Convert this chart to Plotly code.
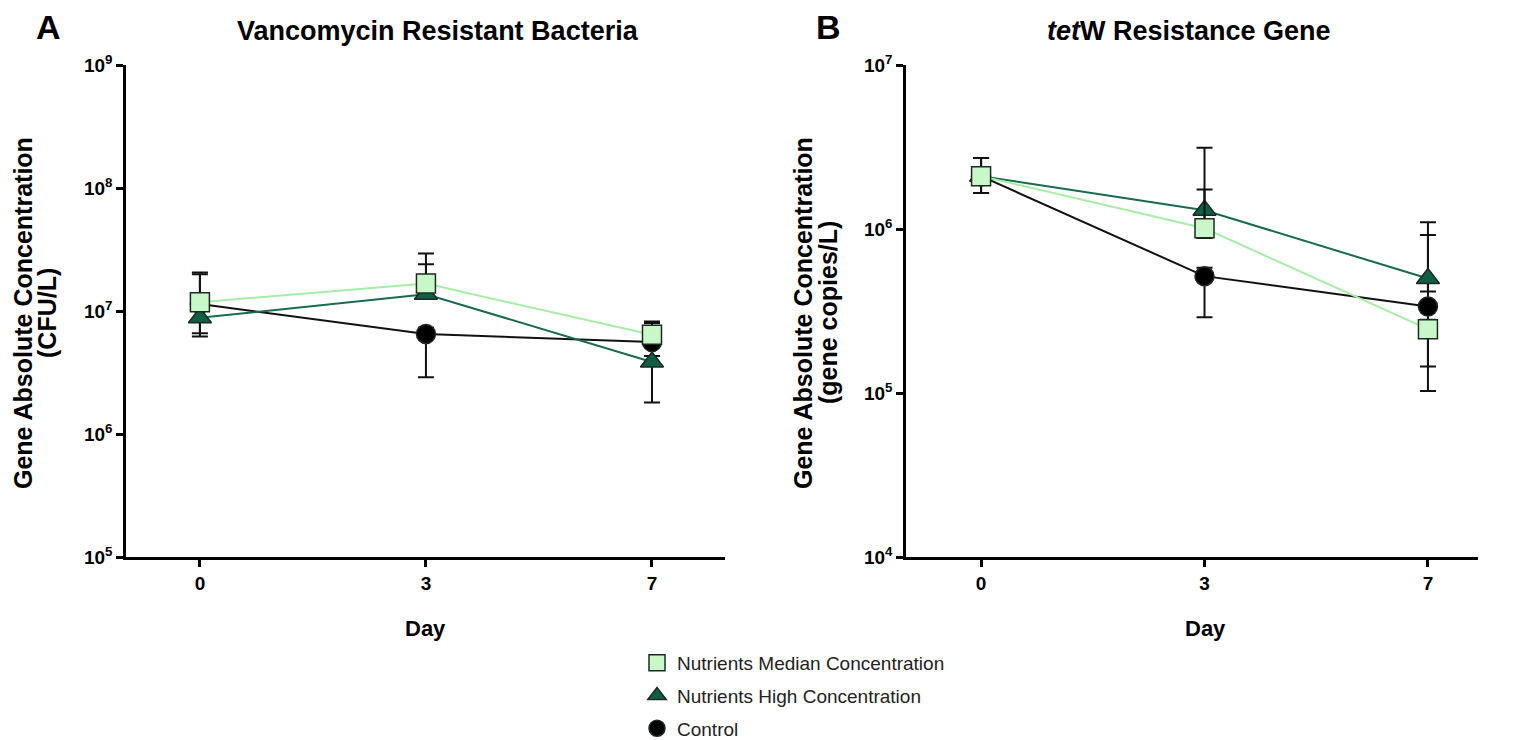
import plotly.graph_objects as go

days = ["0", "3", "7"]
series_names = ["Nutrients Median Concentration", "Nutrients High Concentration", "Control"]

# Panel A: Vancomycin Resistant Bacteria (CFU/L)
a_median = [1.18e7, 1.67e7, 6.4e6]
a_median_hi = [2.06e7, 2.4e7, 8.2e6]
a_median_lo = [1.05e7, 1.5e7, 5.8e6]
a_high = [8.8e6, 1.37e7, 3.85e6]
a_high_hi = [1.0e7, 2.94e7, 4.3e6]
a_high_lo = [6.6e6, 1.25e7, 1.8e6]
a_ctrl = [1.14e7, 6.5e6, 5.6e6]
a_ctrl_hi = [1.99e7, 7.3e6, 8.0e6]
a_ctrl_lo = [6.2e6, 2.9e6, 5.1e6]

# Panel B: tetW Resistance Gene (gene copies/L)
b_median = [2.1e6, 1.01e6, 2.45e5]
b_median_hi = [2.71e6, 1.74e6, 2.8e5]
b_median_lo = [1.66e6, 8.8e5, 1.45e5]
b_high = [2.1e6, 1.30e6, 4.99e5]
b_high_hi = [2.71e6, 3.13e6, 1.1e6]
b_high_lo = [1.66e6, 1.15e6, 4.16e5]
b_ctrl = [2.1e6, 5.16e5, 3.37e5]
b_ctrl_hi = [2.71e6, 5.8e5, 9.2e5]
b_ctrl_lo = [1.66e6, 2.9e5, 1.03e5]

W, H = 1517, 740
OFF = 8  # page body margin
FONT = "Liberation Sans, Arial, sans-serif"


def px(x):
    return (x - OFF) / W


def py(y):
    return 1 - (y - OFF) / H


styles = {
    "median": dict(line="#a6eea6", fill="#c8f7c8", symbol="square", size=19),
    "high": dict(line="#176b50", fill="#0f5e46", symbol="triangle-up", size=20),
    "ctrl": dict(line="#111111", fill="#000000", symbol="circle", size=19),
}

fig = go.Figure()


def add(xa, ya, y, hi, lo, key):
    s = styles[key]
    fig.add_trace(go.Scatter(
        x=days, y=y, mode="lines+markers", xaxis=xa, yaxis=ya, showlegend=False,
        line=dict(color=s["line"], width=2),
        marker=dict(symbol=s["symbol"], size=s["size"], color=s["fill"],
                    line=dict(color="#1c2a22", width=1.5)),
        error_y=dict(type="data", symmetric=False,
                     array=[h - v for h, v in zip(hi, y)],
                     arrayminus=[v - l for l, v in zip(lo, y)],
                     color="#111111", thickness=2, width=8),
    ))


for xa, ya, data in [
    ("x", "y", [(a_ctrl, a_ctrl_hi, a_ctrl_lo, "ctrl"), (a_high, a_high_hi, a_high_lo, "high"),
                (a_median, a_median_hi, a_median_lo, "median")]),
    ("x2", "y2", [(b_ctrl, b_ctrl_hi, b_ctrl_lo, "ctrl"), (b_high, b_high_hi, b_high_lo, "high"),
                  (b_median, b_median_hi, b_median_lo, "median")]),
]:
    for y, hi, lo, key in data:
        add(xa, ya, y, hi, lo, key)

# legend entries (markers only)
for i, (name, key) in enumerate(zip(series_names, ["median", "high", "ctrl"])):
    s = styles[key]
    fig.add_trace(go.Scatter(
        x=[None], y=[None], mode="markers", name=name, xaxis="x", yaxis="y",
        legendgroup="g%d" % i,
        marker=dict(symbol=s["symbol"], size=17, color=s["fill"],
                    line=dict(color="#1c2a22", width=1.5)),
    ))

ydom = [py(557), py(65)]
axis_common = dict(showline=True, linecolor="black", linewidth=2.5, ticks="outside",
                   ticklen=7, tickwidth=2.5, tickcolor="black", showgrid=False, zeroline=False,
                   automargin=False,
                   tickfont=dict(family=FONT, size=19, color="black"))

sup = lambda e: "<b>10<sup>%d</sup></b>" % e

fig.update_layout(
    width=W, height=H, margin=dict(l=0, r=0, t=0, b=0, pad=0),
    paper_bgcolor="white", plot_bgcolor="white",
    font=dict(family=FONT, color="black"),
    xaxis=dict(domain=[px(126), px(725)], anchor="y", type="category",
               range=[-0.327, 2.323], **axis_common),
    yaxis=dict(domain=ydom, anchor="x", type="log", range=[5, 9],
               tickvals=[1e5, 1e6, 1e7, 1e8, 1e9],
               ticktext=[sup(e) for e in range(5, 10)],
               **axis_common),
    xaxis2=dict(domain=[px(906), px(1478)], anchor="y2", type="category",
                range=[-0.336, 2.224], **axis_common),
    yaxis2=dict(domain=ydom, anchor="x2", type="log", range=[4, 7],
                tickvals=[1e4, 1e5, 1e6, 1e7],
                ticktext=[sup(e) for e in range(4, 8)],
                **axis_common),
    legend=dict(x=px(637), y=0.0, xanchor="left", yanchor="bottom",
                font=dict(family=FONT, size=19, color="#222222"),
                tracegroupgap=5, itemsizing="trace", bgcolor="rgba(0,0,0,0)"),
)

fig.update_xaxes(ticktext=["<b>0</b>", "<b>3</b>", "<b>7</b>"], tickvals=days)

ann = [
    dict(x=48, y=27, text="<b>A</b>", size=34),
    dict(x=829, y=27, text="<b>B</b>", size=34),
    dict(x=438, y=31, text="<b>Vancomycin Resistant Bacteria</b>", size=27),
    dict(x=1189, y=31, text="<b><i>tet</i>W Resistance Gene</b>", size=27),
    dict(x=425, y=628, text="<b>Day</b>", size=22),
    dict(x=1205, y=628, text="<b>Day</b>", size=22),
]
for a in ann:
    fig.add_annotation(x=px(a["x"]), y=py(a["y"]), xref="paper", yref="paper", text=a["text"],
                       showarrow=False, xanchor="center", yanchor="middle",
                       font=dict(family=FONT, size=a["size"], color="black"))

for xpos, txt in [(23, "<b>Gene Absolute Concentration</b>"), (47, "<b>(CFU/L)</b>"),
                  (803, "<b>Gene Absolute Concentration</b>"), (828, "<b>(gene copies/L)</b>")]:
    fig.add_annotation(x=px(xpos), y=py(313), xref="paper", yref="paper", text=txt,
                       showarrow=False, textangle=-90, xanchor="center", yanchor="middle",
                       font=dict(family=FONT, size=25, color="black"))

fig.write_html("out.html")
